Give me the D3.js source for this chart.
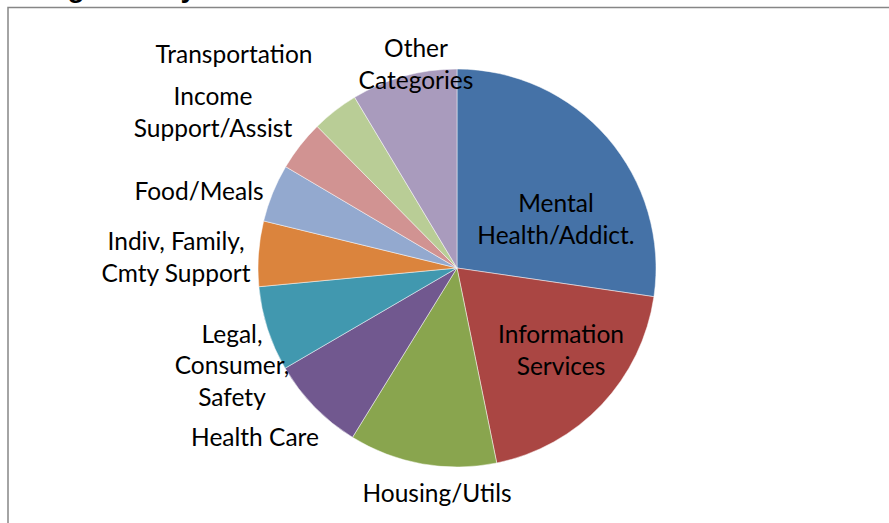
<!DOCTYPE html>
<html>
<head>
<meta charset="utf-8">
<script src="https://cdn.jsdelivr.net/npm/d3@7"></script>
<style>
    body { margin: 0; background: #fff; }
    svg { display: block; }
</style>
</head>
<body>
<div class="canvas"></div>
<script>
// DATA
const categories = ['Mental Health/Addict.', 'Information Services', 'Housing/Utils', 'Health Care',
    'Legal, Consumer, Safety', 'Indiv, Family, Cmty Support', 'Food/Meals',
    'Income Support/Assist', 'Transportation', 'Other Categories'];
const shares = [27.3, 19.5, 12.0, 7.8, 6.9, 5.3, 4.7, 4.1, 3.8, 8.6];
const labelLines = [['Mental', 'Health/Addict.'], ['Information', 'Services'], ['Housing/Utils'], ['Health Care'],
    ['Legal,', 'Consumer,', 'Safety'], ['Indiv, Family,', 'Cmty Support'], ['Food/Meals'],
    ['Income', 'Support/Assist'], ['Transportation'], ['Other', 'Categories']];
const title = 'Programs by Need';

// styling / layout
const colors = ['#4572a7', '#aa4643', '#89a54e', '#71588f', '#4198af', '#db843d', '#93a9cf', '#d19392', '#b9cd96', '#a99bbd'];
// label block centres, offset from pie centre (Excel "best fit" placement)
const labelOffsets = [[99, -50], [104, 81], [-20, 224], [-202, 168], [-225, 96], [-281, -12],
    [-258, -78], [-244, -157], [-223, -215], [-41, -205]];

const width = 889, height = 523;
const cx = 457, cy = 268, radius = 199;
const lineH = 31.5;

const svg = d3.select('.canvas').append('svg')
    .attr('width', width)
    .attr('height', height);

// cut-off title above the frame
svg.append('text')
    .attr('x', 19)
    .attr('y', -3)
    .attr('font-family', 'Liberation Sans, Arial, sans-serif')
    .attr('font-weight', 700)
    .attr('font-size', 28)
    .attr('letter-spacing', 0.6)
    .attr('fill', '#000')
    .text(title);

// chart frame (top + left edges visible)
svg.append('path')
    .attr('d', `M8,${height} L8,7.5 L${width},7.5`)
    .attr('fill', 'none')
    .attr('stroke', '#868686')
    .attr('stroke-width', 1.5);

const pie = d3.pie().sort(null).value(d => d);
const arcs = pie(shares);
const arc = d3.arc().innerRadius(0).outerRadius(radius);

const g = svg.append('g').attr('transform', `translate(${cx},${cy})`);

g.selectAll('path.slice')
    .data(arcs)
    .join('path')
    .attr('class', 'slice')
    .attr('d', arc)
    .attr('fill', (d, i) => colors[i])
    .attr('stroke', 'rgba(255,255,255,0.6)')
    .attr('stroke-width', 0.8);

// LABELS
const labels = g.selectAll('text.label')
    .data(arcs)
    .join('text')
    .attr('class', 'label')
    .attr('text-anchor', 'middle')
    .attr('dominant-baseline', 'central')
    .attr('font-family', 'Lato, sans-serif')
    .attr('font-size', 24.5)
    .attr('fill', '#000');

labels.each(function (d, i) {
    const lines = labelLines[i];
    const [ox, oy] = labelOffsets[i];
    const y0 = oy - (lines.length - 1) * lineH / 2;
    d3.select(this).selectAll('tspan')
        .data(lines)
        .join('tspan')
        .attr('x', ox)
        .attr('y', (l, k) => y0 + k * lineH)
        .text(l => l);
});
</script>
</body>
</html>
